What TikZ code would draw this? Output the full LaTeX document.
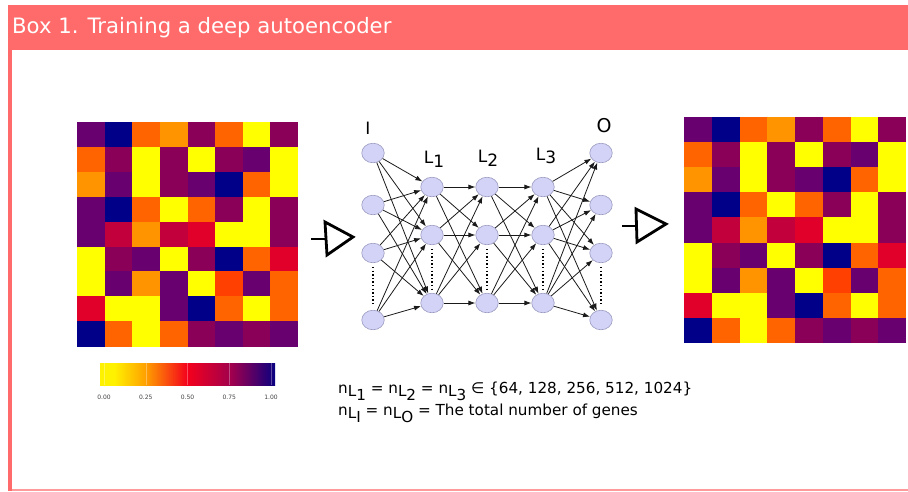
\documentclass[tikz,border=0pt]{standalone}
\usepackage{fontspec}
\setmainfont{DejaVu Sans}
\usetikzlibrary{arrows.meta,shapes.geometric}

\definecolor{boxred}{HTML}{FF6B6B}
\definecolor{boxline}{HTML}{FF9A9A}
\definecolor{neuron}{HTML}{D3D3F7}
\definecolor{neuronedge}{HTML}{9A9AC0}
\definecolor{wire}{HTML}{1A1A1A}
% heat map palette
\definecolor{hmY}{HTML}{FFFF00}
\definecolor{hmA}{HTML}{FF9400}
\definecolor{hmO}{HTML}{FF6400}
\definecolor{hmQ}{HTML}{FF4000}
\definecolor{hmR}{HTML}{E0002A}
\definecolor{hmC}{HTML}{C2003C}
\definecolor{hmM}{HTML}{8A0058}
\definecolor{hmP}{HTML}{680070}
\definecolor{hmN}{HTML}{000088}
\definecolor{barY}{HTML}{FFF200}
\definecolor{barA}{HTML}{FFA000}
\definecolor{barR}{HTML}{F4001C}
\definecolor{barM}{HTML}{A0004E}
\definecolor{barN}{HTML}{0A0080}

% colour bar: the path box maps onto 25bp..75bp
\pgfdeclarehorizontalshading{cbar}{100bp}{%
  color(0bp)=(barY); color(25bp)=(barY); color(29bp)=(barY);
  color(38bp)=(barA); color(50bp)=(barR); color(62.5bp)=(barM);
  color(75bp)=(barN); color(100bp)=(barN)}

% 8 x 9 grid of coloured cells: #1,#2 top left corner, #3,#4 cell size
\newcommand\drawheatmap[4]{%
  \foreach \cells [count=\r from 0] in {%
      {P,N,O,A,M,O,Y,M},{O,M,Y,M,Y,M,P,Y},{A,P,Y,M,P,N,O,Y},
      {P,N,O,Y,O,M,Y,M},{P,C,A,C,R,Y,Y,M},{Y,M,P,Y,M,N,O,R},
      {Y,P,A,P,Y,Q,P,O},{R,Y,Y,P,N,O,Y,O},{N,O,Y,O,M,P,M,P}} {
    \foreach \c [count=\k from 0] in \cells {
      \fill[hm\c] (#1+\k*#3,#2+\r*#4) rectangle ++(#3+0.4,#4+0.4);
    }
  }
}
\newcommand\lowered[1]{\raisebox{-3.8pt}{#1}}

\begin{document}
\begin{tikzpicture}[x=1pt,y=-1pt,
  neuronnode/.style={ellipse,draw=neuronedge,line width=0.6pt,fill=neuron,
    minimum width=22.5pt,minimum height=19.5pt,inner sep=0pt},
  link/.style={draw=wire,line width=0.8pt,-{Latex[length=7pt,width=5pt]}},
  dots/.style={draw=black,line width=1.4pt,dash pattern=on 1.4pt off 2.2pt},
  layerlabel/.style={font=\fontsize{17}{19}\selectfont,inner sep=0pt},
  amp/.style={draw=black,line width=2.8pt,line join=miter},
  ticklabel/.style={font=\fontsize{6}{7}\selectfont,text=black!75,inner sep=0pt},
  formula/.style={font=\fontsize{15.2}{17}\selectfont,anchor=base west,inner sep=0pt}]

\useasboundingbox (0,0) rectangle (908,491);

% frame of the box
\fill[boxred] (8,5) rectangle (908,50);
\fill[boxred] (8,50) rectangle (12.3,491);
\draw[boxline,line width=2pt] (12.3,489.5) -- (908,489.5);
\node[anchor=base west,inner sep=0pt,text=white,font=\fontsize{21.2}{24}\selectfont]
  (title) at (12,33) {Box 1. Training a deep autoencoder};

% input and reconstructed matrices
\drawheatmap{77}{122}{27.625}{24.9}
\drawheatmap{684}{117}{27.75}{25.1}

% colour bar
\shade[shading=cbar] (100,363) rectangle (275,385);
\foreach \v [count=\i from 0] in {0.00,0.25,0.50,0.75,1.00} {
  \draw[white,opacity=0.3,line width=0.4pt] (104+\i*41.75,363) -- ++(0,22);
  \node[ticklabel] (tick\i) at (104+\i*41.75,397) {\v};
}

% network
\foreach \y [count=\i] in {153,205,253,320} {
  \node[neuronnode] (I\i) at (373,\y) {};
  \node[neuronnode] (O\i) at (601,\y) {};
}
\foreach \y [count=\i] in {187,235,303} {
  \node[neuronnode] (A\i) at (432,\y) {};
  \node[neuronnode] (B\i) at (487,\y) {};
  \node[neuronnode] (C\i) at (543,\y) {};
}
\foreach \s in {1,...,4} \foreach \t in {1,2,3} \draw[link] (I\s) -- (A\t);
\foreach \s in {1,2,3} \foreach \t in {1,2,3} {
  \draw[link] (A\s) -- (B\t);
  \draw[link] (B\s) -- (C\t);
}
\foreach \s in {1,2,3} \foreach \t in {1,...,4} \draw[link] (C\s) -- (O\t);

\draw[dots] ([yshift=-4pt]I3.south) -- ([yshift=4pt]I4.north);
\draw[dots] ([yshift=-4pt]O3.south) -- ([yshift=4pt]O4.north);
\draw[dots] ([yshift=-4pt]A2.south) -- ([yshift=4pt]A3.north);
\draw[dots] ([yshift=-4pt]B2.south) -- ([yshift=4pt]B3.north);
\draw[dots] ([yshift=-4pt]C2.south) -- ([yshift=4pt]C3.north);

\node[layerlabel] (labI) at (368,128) {I};
\node[layerlabel,font=\fontsize{19}{21}\selectfont] (labO) at (604,126) {O};
\node[layerlabel] (labA) at (434,159) {L\lowered{1}};
\node[layerlabel] (labB) at (488,158) {L\lowered{2}};
\node[layerlabel] (labC) at (546,156) {L\lowered{3}};

% arrows between the panels
\draw[amp] (311,239) -- (325,239);
\draw[amp] (325,222) -- (327,255) -- (353,237) -- cycle;
\draw[amp] (622,226) -- (636,226);
\draw[amp] (636,209) -- (637,242) -- (666,224) -- cycle;

% layer sizes
\node[formula] (sizes) at (338,393)
  {n\lowered{L\lowered{1}} = n\lowered{L\lowered{2}} = n\lowered{L\lowered{3}} ∈ \{64, 128, 256, 512, 1024\}};
\node[formula] (genes) at (338,415)
  {n\lowered{L\lowered{I}} = n\lowered{L\lowered{O}} = The total number of genes};
\end{tikzpicture}
\end{document}
